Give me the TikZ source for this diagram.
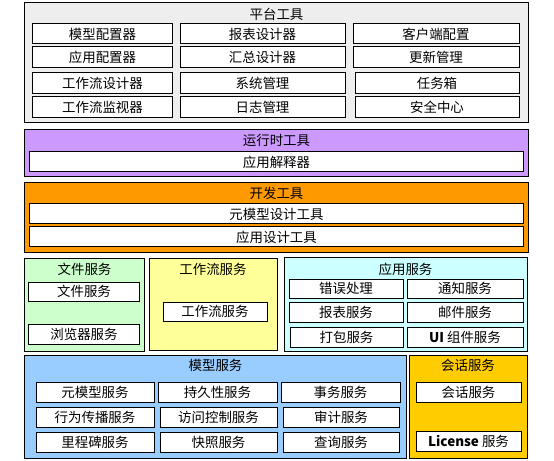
\documentclass[tikz,border=0pt]{standalone}
\usepackage{fontspec}
\setmainfont{Noto Sans CJK SC}
\definecolor{cplat}{HTML}{EEEEEE}
\definecolor{crun}{HTML}{CC99FF}
\definecolor{cdev}{HTML}{FF9900}
\definecolor{cfile}{HTML}{CCFFCC}
\definecolor{cwf}{HTML}{FFFF99}
\definecolor{capp}{HTML}{CCFFFF}
\definecolor{cmodel}{HTML}{99CCFF}
\definecolor{csess}{HTML}{FFCC00}
\tikzset{
  ib/.style={draw=black, line width=1bp, fill=white, inner sep=0pt, font=\fontsize{13.5}{15}\selectfont},
  cont/.style={draw=black, line width=1bp, inner sep=0pt},
  ttl/.style={inner sep=0pt, font=\fontsize{13.5}{15}\selectfont},
}
\newcommand\mybox[7][]{%
  \pgfmathsetmacro\mycx{(#3+#5)/2}%
  \pgfmathsetmacro\mycy{(#4+#6)/2}%
  \pgfmathsetmacro\mybw{#5-#3}%
  \pgfmathsetmacro\mybh{#6-#4}%
  \node[ib,#1,minimum width=\mybw bp,minimum height=\mybh bp] (#2) at (\mycx,\mycy) {#7};}
\begin{document}
\begin{tikzpicture}[x=1bp,y=-1bp]
\useasboundingbox (0,0) rectangle (554,461);
% platform tools
\mybox[cont,fill=cplat]{plat}{25}{3}{528}{123}{}
\node[ttl] (platT) at (276.5,14) {平台工具};
\mybox{p11}{33}{24}{172}{44}{模型配置器}
\mybox{p12}{180}{24}{345}{44}{报表设计器}
\mybox{p13}{353}{24}{519}{44}{客户端配置}
\mybox{p21}{33}{47}{172}{68}{应用配置器}
\mybox{p22}{180}{47}{345}{68}{汇总设计器}
\mybox{p23}{353}{47}{519}{68}{更新管理}
\mybox{p31}{33}{73}{172}{94}{工作流设计器}
\mybox{p32}{180}{73}{345}{94}{系统管理}
\mybox{p33}{355}{73}{519}{94}{任务箱}
\mybox{p41}{33}{97}{172}{118}{工作流监视器}
\mybox{p42}{180}{97}{345}{118}{日志管理}
\mybox{p43}{355}{97}{519}{118}{安全中心}
% runtime tools
\mybox[cont,fill=crun]{run}{25}{130}{528}{177}{}
\node[ttl] (runT) at (276.5,140) {运行时工具};
\mybox{r1}{30}{152}{523}{172}{应用解释器}
% dev tools
\mybox[cont,fill=cdev]{dev}{25}{183}{528}{252}{}
\node[ttl] (devT) at (276.5,193) {开发工具};
\mybox{d1}{30}{204}{523}{224}{元模型设计工具}
\mybox{d2}{30}{227}{523}{247}{应用设计工具}
% file services
\mybox[cont,fill=cfile]{file}{25}{259}{144}{351}{}
\node[ttl] (fileT) at (84.5,269) {文件服务};
\mybox{f1}{29}{282}{139}{301}{文件服务}
\mybox{f2}{29}{324}{139}{344}{浏览器服务}
% workflow services
\mybox[cont,fill=cwf]{wf}{149}{259}{277}{350}{}
\node[ttl] (wfT) at (213,269) {工作流服务};
\mybox{w1}{163}{302}{267}{321}{工作流服务}
% application services
\mybox[cont,fill=capp]{app}{284}{258}{527}{351}{}
\node[ttl] (appT) at (405.5,269) {应用服务};
\mybox{a11}{289}{279}{403}{298}{错误处理}
\mybox{a12}{407}{279}{523}{298}{通知服务}
\mybox{a21}{289}{302}{403}{322}{报表服务}
\mybox{a22}{407}{302}{523}{322}{邮件服务}
\mybox{a31}{290}{327}{403}{347}{打包服务}
\mybox{a32}{407}{327}{523}{347}{\textbf{UI} 组件服务}
% model services
\mybox[cont,fill=cmodel]{model}{25}{355}{406}{458}{}
\node[ttl] (modelT) at (215.5,365) {模型服务};
\mybox{m11}{36}{382}{154}{402}{元模型服务}
\mybox{m12}{158}{382}{277}{402}{持久性服务}
\mybox{m13}{281}{382}{400}{402}{事务服务}
\mybox{m21}{36}{407}{154}{427}{行为传播服务}
\mybox{m22}{160}{407}{277}{427}{访问控制服务}
\mybox{m23}{283}{407}{399}{427}{审计服务}
\mybox{m31}{36}{432}{154}{452}{里程碑服务}
\mybox{m32}{160}{432}{277}{452}{快照服务}
\mybox{m33}{283}{432}{399}{452}{查询服务}
% session services
\mybox[cont,fill=csess]{sess}{409}{355}{527}{458}{}
\node[ttl] (sessT) at (468,365) {会话服务};
\mybox{s1}{416}{382}{521}{402}{会话服务}
\mybox{s2}{416}{431}{521}{451}{\textbf{License} 服务}
\end{tikzpicture}
\end{document}
